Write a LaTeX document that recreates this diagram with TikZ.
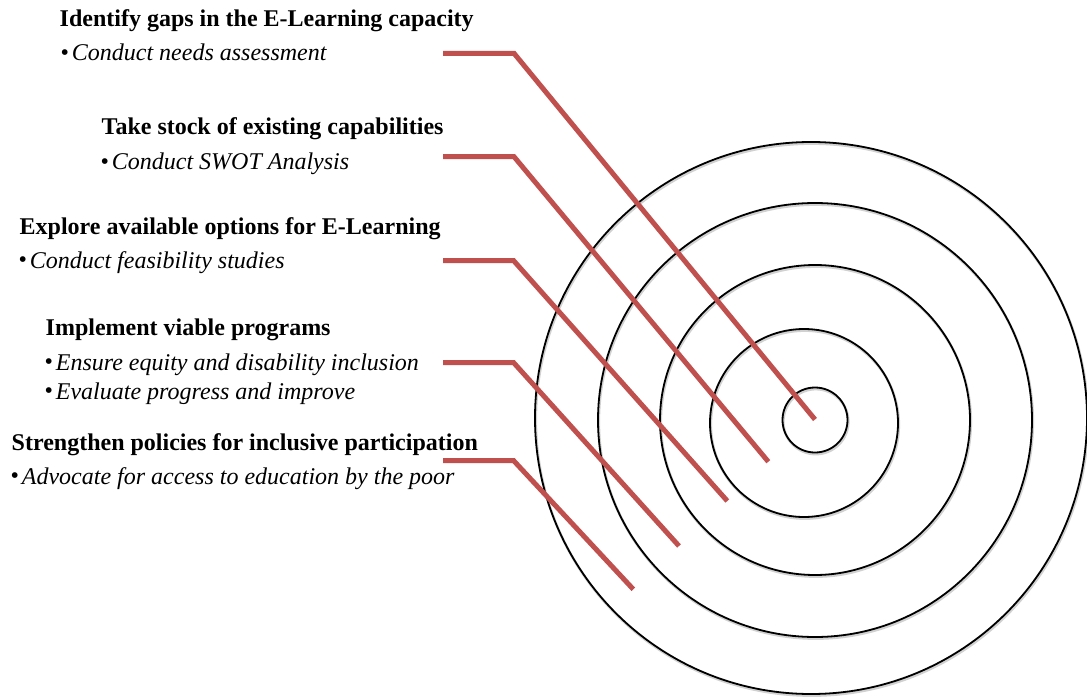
\documentclass[tikz,border=0pt]{standalone}
\usepackage{fontspec}
\setmainfont{Liberation Serif}
\definecolor{accred}{HTML}{C0504D}
\newcommand\mybul{{\fontsize{24}{24}\selectfont\raisebox{0.6pt}{•}}\hspace{2.8pt}}
\begin{document}
\begin{tikzpicture}[x=1pt,y=-1pt,
  head/.style={anchor=base west, inner sep=0pt, font=\fontsize{24}{28}\selectfont\bfseries},
  item/.style={anchor=base west, inner sep=0pt, font=\fontsize{24}{28}\selectfont},
  ring/.style={draw=black, line width=1.8pt},
  ringshadow/.style={draw=black, line width=2.6pt, opacity=0.18},
  leader/.style={draw=accred, line width=5pt, line join=miter}]
\useasboundingbox (0,0) rectangle (1087,698);

% target rings
\foreach \cx/\cy/\r in {811/418/276, 815/420/217, 815/420/155, 804/423/94, 815/420/32.5}{
  \draw[ringshadow] (\cx+0.8,\cy+1.6) circle[radius=\r pt];
}
\draw[ring] (811,418) circle[radius=276pt];
\draw[ring] (815,420) circle[radius=217pt];
\draw[ring] (815,420) circle[radius=155pt];
\draw[ring] (804,423) circle[radius=94pt];
\draw[ring] (815,420) circle[radius=32.5pt];

% texts
\node[head] (h1) at (59.5,26.5) {Identify gaps in the E-Learning capacity};
\node[item] (b1) at (60.5,61) {\mybul\textit{Conduct needs assessment}};

\node[head] (h2) at (101.5,135) {Take stock of existing capabilities};
\node[item] (b2) at (100.5,170) {\mybul\textit{Conduct SWOT Analysis}};

\node[head] (h3) at (19.5,234) {Explore available options for E-Learning};
\node[item] (b3) at (18.5,268) {\mybul\textit{Conduct feasibility studies}};

\node[head] (h4) at (45.5,335) {Implement viable programs};
\node[item] (b4a) at (44.5,370) {\mybul\textit{Ensure equity and disability inclusion}};
\node[item] (b4b) at (44.5,399) {\mybul\textit{Evaluate progress and improve}};

\node[head] (h5) at (11.5,450.5) {Strengthen policies for inclusive participation};
\node[item] (b5) at (10.5,484.5) {\mybul\textit{Advocate for access to education by the poor}};

% leader lines
\coordinate (s1) at (443,53.3);  \coordinate (k1) at (514,53.3);  \coordinate (e1) at (815,419.5);
\coordinate (s2) at (443,156.7); \coordinate (k2) at (514,156.7); \coordinate (e2) at (768.3,461.7);
\coordinate (s3) at (443,260.5); \coordinate (k3) at (513.5,260.5); \coordinate (e3) at (727.3,501);
\coordinate (s4) at (443,362.5); \coordinate (k4) at (513.5,362.5); \coordinate (e4) at (679,546);
\coordinate (s5) at (443,460.5); \coordinate (k5) at (513.5,460.5); \coordinate (e5) at (633.3,589.3);

\foreach \i in {1,...,5}{
  \draw[leader] (s\i) -- (k\i) -- (e\i);
}
\end{tikzpicture}
\end{document}
